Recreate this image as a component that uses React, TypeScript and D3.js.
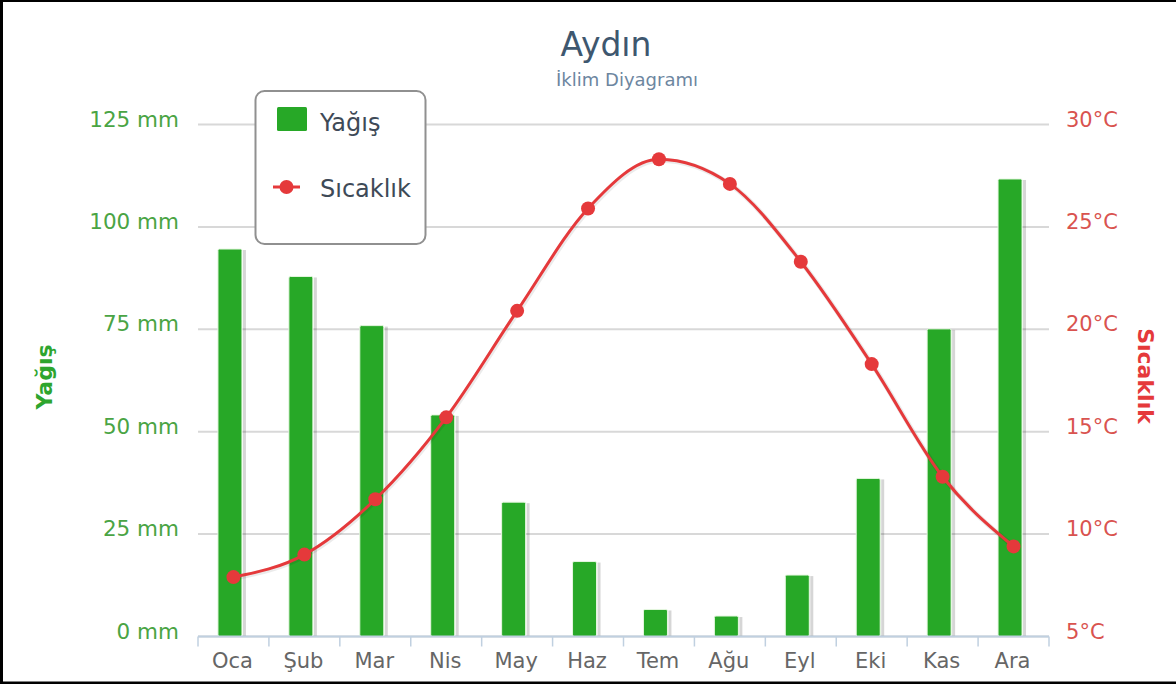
import React from "react";
import * as d3 from "d3";

const months = ["Oca", "Şub", "Mar", "Nis", "May", "Haz", "Tem", "Ağu", "Eyl", "Eki", "Kas", "Ara"];
const rainfall = [94.6, 87.9, 75.9, 54.1, 32.8, 18.3, 6.6, 5.0, 15.0, 38.6, 75.1, 111.7];
const temperature = [7.9, 9.0, 11.7, 15.7, 20.9, 25.9, 28.3, 27.1, 23.3, 18.3, 12.8, 9.4];
const rainTicks = [0, 25, 50, 75, 100, 125];
const tempTicks = [5, 10, 15, 20, 25, 30];

const W = 1176;
const H = 684;
const LEFT = 198;
const RIGHT = 1049;
const TOP = 124.5;
const BOTTOM = 636.5;
const BAR_W = 24;
const BAR_SHIFT = -3.5;

const GREEN = "#27a827";
const RED = "#e5393b";
const FONT = "DejaVu Sans, sans-serif";

const App = () => {
    const x = d3.scaleBand<string>().domain(months).range([LEFT, RIGHT]);
    const yRain = d3.scaleLinear().domain([0, 125]).range([BOTTOM, TOP]);
    const yTemp = d3.scaleLinear().domain([5, 30]).range([BOTTOM, TOP]);
    const cx = (m: string) => (x(m) as number) + x.bandwidth() / 2;

    const line = d3
        .line<number>()
        .x((_, i) => cx(months[i]))
        .y((d) => yTemp(d))
        .curve(d3.curveMonotoneX);

    // category boundaries for the x-axis ticks
    const tickXs = months.map((m) => x(m) as number).concat([RIGHT]);

    return (
        <svg
            width={W}
            height={H}
            style={{position: "absolute", left: 0, top: 0, background: "#fff"}}
            fontFamily={FONT}
        >
            <rect x={0} y={0} width={W} height={H} fill="#fff" />

            {/* frame */}
            <line x1={0} y1={1} x2={W} y2={1} stroke="#000" strokeWidth={2} />
            <line x1={1.5} y1={0} x2={1.5} y2={H} stroke="#000" strokeWidth={3} />
            <line x1={0} y1={683} x2={W} y2={683} stroke="#000" strokeWidth={3} />

            {/* title */}
            <text x={606} y={56} textAnchor="middle" fontSize={33} fill="#3e576f">
                Aydın
            </text>
            <text x={627} y={86} textAnchor="middle" fontSize={18} fill="#6d869f">
                İklim Diyagramı
            </text>

            {/* grid */}
            {rainTicks.map((t) => (
                <line
                    key={"g" + t}
                    x1={LEFT}
                    x2={RIGHT}
                    y1={yRain(t)}
                    y2={yRain(t)}
                    stroke="#d8d8d8"
                    strokeWidth={2}
                />
            ))}

            {/* left axis labels */}
            {rainTicks.map((t) => (
                <text key={"l" + t} x={179} y={yRain(t) + 2} textAnchor="end" fontSize={21.5} fill="#4aa444">
                    {t} mm
                </text>
            ))}
            <text
                transform={`translate(52, 377) rotate(-90)`}
                textAnchor="middle"
                fontSize={22}
                fontWeight="bold"
                fill="#2ea52e"
            >
                Yağış
            </text>

            {/* right axis labels */}
            {tempTicks.map((t) => (
                <text key={"r" + t} x={1066} y={yTemp(t) + 2} textAnchor="start" fontSize={21} fill="#d9534f">
                    {t}°C
                </text>
            ))}
            <text
                transform={`translate(1138, 376) rotate(90)`}
                textAnchor="middle"
                fontSize={22}
                fontWeight="bold"
                fill="#e5393b"
            >
                Sıcaklık
            </text>

            {/* bars */}
            {rainfall.map((v, i) => {
                const bx = cx(months[i]) - BAR_W / 2 + BAR_SHIFT;
                const by = yRain(v);
                return (
                    <g key={"b" + i}>
                        <rect x={bx + BAR_W + 1} y={by + 1} width={3} height={BOTTOM - by - 1} fill="#000" opacity={0.16} />
                        <rect
                            x={bx}
                            y={by}
                            width={BAR_W}
                            height={BOTTOM - by}
                            fill={GREEN}
                            stroke="#e6f7e0"
                            strokeWidth={1}
                            rx={1.5}
                        />
                    </g>
                );
            })}

            {/* x axis */}
            <line x1={LEFT} x2={RIGHT} y1={BOTTOM} y2={BOTTOM} stroke="#c0d0e0" strokeWidth={2} />
            {tickXs.map((tx, i) => (
                <line key={"t" + i} x1={tx} x2={tx} y1={BOTTOM} y2={BOTTOM + 10} stroke="#c0d0e0" strokeWidth={1.5} />
            ))}
            {months.map((m) => (
                <text key={"x" + m} x={cx(m) - 1} y={668} textAnchor="middle" fontSize={21} fill="#666">
                    {m}
                </text>
            ))}

            {/* temperature line */}
            <path d={line(temperature) || ""} fill="none" stroke="#000" strokeOpacity={0.08} strokeWidth={5} transform="translate(1,1)" />
            <path d={line(temperature) || ""} fill="none" stroke={RED} strokeWidth={3} />
            {temperature.map((t, i) => (
                <circle key={"p" + i} cx={cx(months[i])} cy={yTemp(t)} r={7} fill={RED} />
            ))}

            {/* legend */}
            <rect x={255.5} y={91} width={170} height={153} rx={9} fill="#fff" stroke="#909090" strokeWidth={2} />
            <rect x={277} y={107} width={30} height={24} fill={GREEN} rx={1.5} />
            <text x={320} y={131} fontSize={24} fill="#3e4a57">
                Yağış
            </text>
            <line x1={273} x2={300} y1={187} y2={187} stroke={RED} strokeWidth={3} />
            <circle cx={286.5} cy={187} r={7} fill={RED} />
            <text x={320} y={197} fontSize={24} fill="#3e4a57">
                Sıcaklık
            </text>
        </svg>
    );
};

export default App;
